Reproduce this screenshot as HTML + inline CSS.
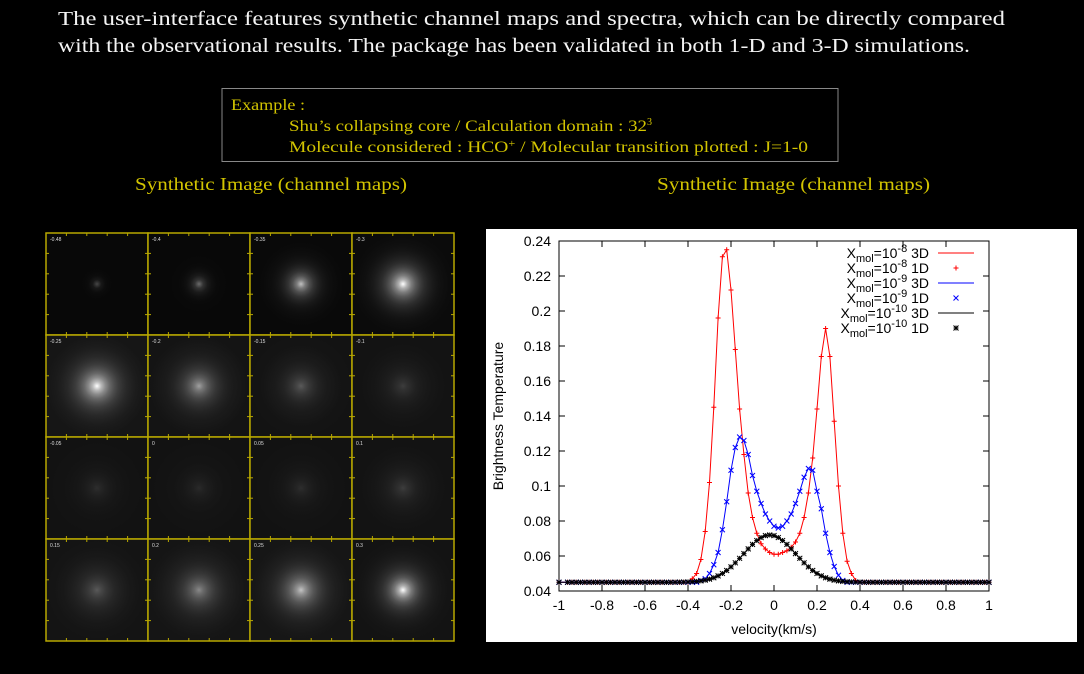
<!DOCTYPE html>
<html><head><meta charset="utf-8"><style>
html,body{margin:0;padding:0;background:#000;width:1084px;height:674px;overflow:hidden}
svg{display:block}
</style></head><body>
<svg id="s" width="1084" height="674" viewBox="0 0 1084 674" xmlns="http://www.w3.org/2000/svg">
<defs id="defs"></defs>
<rect width="1084" height="674" fill="#000"/>
<g font-family="Liberation Serif, serif" fill="#f4f4f4" font-size="20">
<text x="58" y="25" textLength="947" lengthAdjust="spacingAndGlyphs">The user-interface features synthetic channel maps and spectra, which can be directly compared</text>
<text x="58" y="52" textLength="912" lengthAdjust="spacingAndGlyphs">with the observational results. The package has been validated in both 1-D and 3-D simulations.</text>
</g>
<rect x="222" y="88.5" width="616" height="73" fill="none" stroke="#888" stroke-width="1"/>
<g font-family="Liberation Serif, serif" fill="#d2c400" font-size="16">
<text x="231" y="110" textLength="74" lengthAdjust="spacingAndGlyphs">Example :</text>
<text x="289" y="131"><tspan textLength="358" lengthAdjust="spacingAndGlyphs">Shu’s collapsing core /  Calculation domain : 32</tspan><tspan font-size="10" dy="-6">3</tspan></text>
<text x="289" y="152" textLength="519" lengthAdjust="spacingAndGlyphs">Molecule considered : HCO<tspan font-size="10" dy="-5">+</tspan><tspan dy="5"> /  Molecular transition plotted : J=1-0</tspan></text>
<text x="135" y="190" font-size="18" textLength="272" lengthAdjust="spacingAndGlyphs">Synthetic Image (channel maps)</text>
<text x="657" y="190" font-size="18" textLength="273" lengthAdjust="spacingAndGlyphs">Synthetic Image (channel maps)</text>
</g>
<g id="maps"></g>
<rect x="486" y="229" width="591" height="413" fill="#fff"/>
<g id="plot"></g>
</svg>
<script>
var NS="http://www.w3.org/2000/svg";
function el(p,t,a,txt){var e=document.createElementNS(NS,t);for(var k in a)e.setAttribute(k,a[k]);if(txt!=null)e.textContent=txt;p.appendChild(e);return e;}
var defs=document.getElementById('defs'),maps=document.getElementById('maps');
var pk=[[0.25,10],[0.4,16],[0.75,28],[1,36],[1,40],[0.6,40],[0.3,40],[0.18,40],[0.12,36],[0.1,36],[0.12,36],[0.18,40],[0.3,45],[0.5,45],[0.75,42],[1,32]];
var labs=['-0.48','-0.4','-0.35','-0.3','-0.25','-0.2','-0.15','-0.1','-0.05','0','0.05','0.1','0.15','0.2','0.25','0.3'];
for(var i=0;i<16;i++){
 var c=i%4,r=Math.floor(i/4),x=46+c*102,y=233+r*102;
 var g=el(defs,'radialGradient',{id:'g'+i,cx:'50%',cy:'50%',r:'50%'});
 var p=pk[i][0],bg=(r==0?8:18),a=pk[i][1]/3.2;
 for(var k=0;k<=12;k++){var rad=51*k/12;var v=p*Math.exp(-rad/a);var n=Math.round(bg+(255-bg)*v);
  el(g,'stop',{offset:(k/12).toFixed(3),"stop-color":'rgb('+n+','+n+','+n+')'});}
 el(maps,'rect',{x:x,y:y,width:102,height:102,fill:'url(#g'+i+')',stroke:'#b8a800','stroke-width':1.5});
 el(maps,'text',{x:x+4,y:y+8,fill:'#ddd','font-size':5,'font-family':'Liberation Sans, sans-serif'},labs[i]);
 for(var k=1;k<5;k++){el(maps,'line',{x1:x+k*20.4,y1:y,x2:x+k*20.4,y2:y+3,stroke:'#b8a800'});el(maps,'line',{x1:x+k*20.4,y1:y+102,x2:x+k*20.4,y2:y+99,stroke:'#b8a800'});
 el(maps,'line',{x1:x,y1:y+k*20.4,x2:x+3,y2:y+k*20.4,stroke:'#b8a800'});el(maps,'line',{x1:x+102,y1:y+k*20.4,x2:x+99,y2:y+k*20.4,stroke:'#b8a800'});}
}
var P=document.getElementById('plot');
var X0=559,X1=989,Y0=591,Y1=241;
function sx(v){return X0+(v+1)/2*(X1-X0);}
function sy(t){return Y0-(t-0.04)/0.2*(Y0-Y1);}
var font='Liberation Sans, sans-serif';
el(P,'rect',{x:X0,y:Y1,width:X1-X0,height:Y0-Y1,fill:'none',stroke:'#000','stroke-width':1});
for(var i=0;i<=10;i++){var t=0.04+i*0.02,y=sy(t);
 el(P,'line',{x1:X0,y1:y,x2:X0+6,y2:y,stroke:'#000'});el(P,'line',{x1:X1,y1:y,x2:X1-6,y2:y,stroke:'#000'});
 el(P,'text',{x:X0-8,y:y+5,'text-anchor':'end','font-size':14,'font-family':font},(+t.toFixed(2)).toString());}
for(var i=0;i<=10;i++){var v=-1+i*0.2,x=sx(v);
 el(P,'line',{x1:x,y1:Y0,x2:x,y2:Y0-6,stroke:'#000'});el(P,'line',{x1:x,y1:Y1,x2:x,y2:Y1+6,stroke:'#000'});
 el(P,'text',{x:x,y:Y0+19,'text-anchor':'middle','font-size':14,'font-family':font},(+v.toFixed(1)).toString());}
el(P,'text',{x:774,y:634,'text-anchor':'middle','font-size':14,'font-family':font},'velocity(km/s)');
el(P,'text',{x:0,y:0,'text-anchor':'middle','font-size':14,'font-family':font,transform:'translate(503,416) rotate(-90)'},'Brightness Temperature');
function interp(d,v){if(v<=d[0][0])return 0.045;if(v>=d[d.length-1][0])return 0.045;
 for(var i=0;i<d.length-1;i++){if(v>=d[i][0]-1e-9&&v<=d[i+1][0]+1e-9){var f=(v-d[i][0])/(d[i+1][0]-d[i][0]);return d[i][1]+f*(d[i+1][1]-d[i][1]);}}return 0.045;}
var red=[[-0.40,0.045],[-0.38,0.047],[-0.36,0.050],[-0.34,0.058],[-0.32,0.074],[-0.30,0.102],[-0.28,0.145],[-0.26,0.196],[-0.24,0.231],[-0.22,0.235],[-0.20,0.212],[-0.18,0.178],[-0.16,0.144],[-0.14,0.118],[-0.12,0.096],[-0.10,0.082],[-0.08,0.073],[-0.06,0.067],[-0.04,0.064],[-0.02,0.062],[0,0.061],[0.02,0.061],[0.04,0.062],[0.06,0.063],[0.08,0.065],[0.10,0.068],[0.12,0.073],[0.14,0.082],[0.16,0.096],[0.18,0.116],[0.20,0.144],[0.22,0.174],[0.24,0.190],[0.26,0.174],[0.28,0.137],[0.30,0.100],[0.32,0.073],[0.34,0.057],[0.36,0.050],[0.38,0.046],[0.40,0.045]];
var blue=[[-0.36,0.045],[-0.34,0.046],[-0.32,0.047],[-0.30,0.050],[-0.28,0.055],[-0.26,0.062],[-0.24,0.075],[-0.22,0.091],[-0.20,0.109],[-0.18,0.122],[-0.16,0.128],[-0.14,0.126],[-0.12,0.118],[-0.10,0.106],[-0.08,0.097],[-0.06,0.090],[-0.04,0.084],[-0.02,0.080],[0,0.077],[0.02,0.076],[0.04,0.077],[0.06,0.080],[0.08,0.084],[0.10,0.090],[0.12,0.097],[0.14,0.105],[0.16,0.110],[0.18,0.109],[0.20,0.097],[0.22,0.087],[0.24,0.073],[0.26,0.062],[0.28,0.054],[0.30,0.049],[0.32,0.046],[0.34,0.045]];
function black(v){return 0.045+0.027*Math.exp(-Math.pow(v+0.02,2)/(2*0.0144));}
function series(f,color,mk){var d='';var pts=[];
 for(var i=0;i<=99;i++){var v=-0.98+i*0.02;if(i==0)v=-1;var t=f(v);var x=sx(v),y=sy(t);pts.push([x,y]);d+=(i?'L':'M')+x.toFixed(1)+' '+y.toFixed(1);}
 el(P,'path',{d:d,fill:'none',stroke:color,'stroke-width':1});
 pts.forEach(function(p){marker(p[0],p[1],color,mk);});}
function marker(x,y,c,mk){var s=2.5;
 if(mk=='+'||mk=='*'){el(P,'path',{d:'M'+(x-s)+' '+y+'H'+(x+s)+'M'+x+' '+(y-s)+'V'+(y+s),stroke:c,'stroke-width':1,fill:'none'});}
 if(mk=='x'||mk=='*'){el(P,'path',{d:'M'+(x-s)+' '+(y-s)+'L'+(x+s)+' '+(y+s)+'M'+(x-s)+' '+(y+s)+'L'+(x+s)+' '+(y-s),stroke:c,'stroke-width':1,fill:'none'});}}
series(function(v){return interp(red,v);},'#ff0000','+');
series(function(v){return interp(blue,v);},'#0000ff','x');
series(black,'#000','*');
var L=[['-8','3D','#f00','l'],['-8','1D','#f00','+'],['-9','3D','#00f','l'],['-9','1D','#00f','x'],['-10','3D','#000','l'],['-10','1D','#000','*']];
L.forEach(function(a,i){var y=258+i*15;
 var t=el(P,'text',{x:929,y:y,'text-anchor':'end','font-size':14,'font-family':font});
 t.innerHTML='X<tspan font-size="11" dy="4">mol</tspan><tspan dy="-4">=10</tspan><tspan font-size="11" dy="-6">'+a[0]+'</tspan><tspan dy="6"> '+a[1]+'</tspan>';
 if(a[3]=='l')el(P,'line',{x1:938,y1:y-5,x2:974,y2:y-5,stroke:a[2]});else marker(956,y-5,a[2],a[3]);});
</script>
</body></html>
